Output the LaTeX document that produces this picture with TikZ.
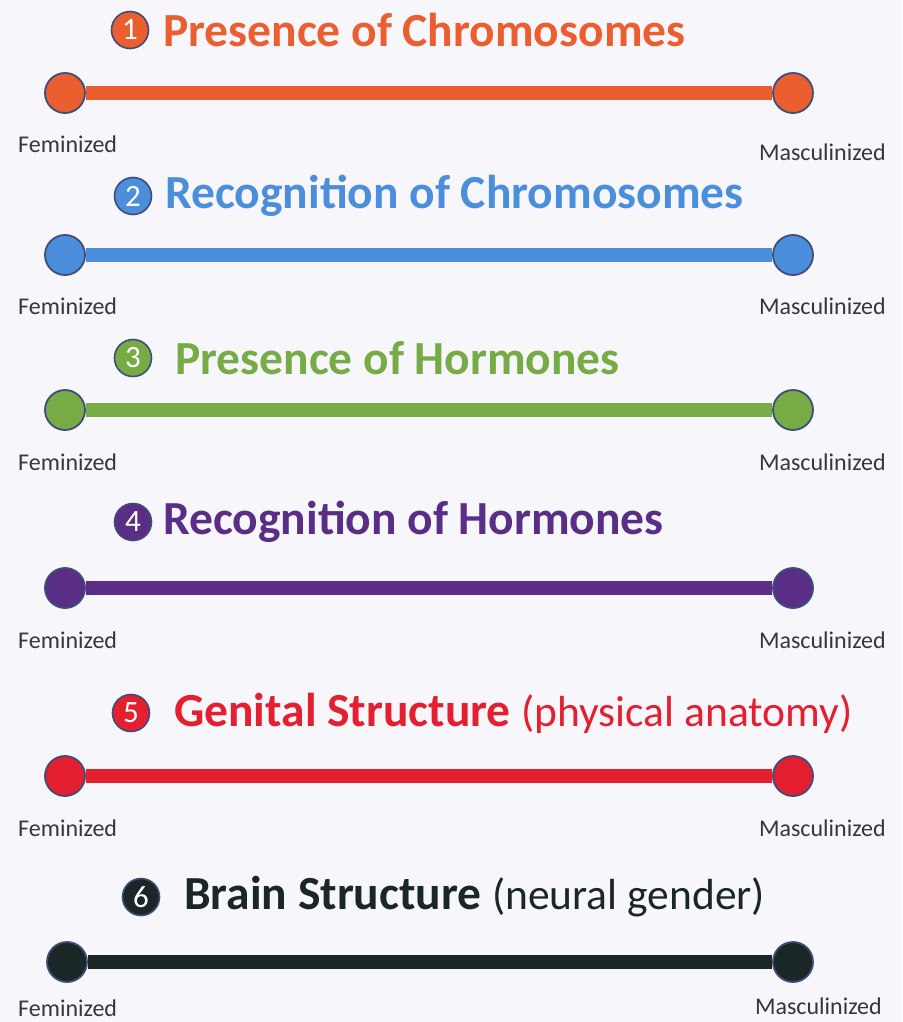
\documentclass[tikz,border=0pt]{standalone}
\usepackage{fontspec}
\setmainfont{Carlito}
\definecolor{bg}{HTML}{F7F6FB}
\definecolor{cA}{HTML}{EA5E30}
\definecolor{cB}{HTML}{4A8EDC}
\definecolor{cC}{HTML}{76AB45}
\definecolor{cD}{HTML}{5A2E86}
\definecolor{cE}{HTML}{E31F30}
\definecolor{cF}{HTML}{1B2727}
\definecolor{rim}{HTML}{3F4D78}
\definecolor{lbl}{HTML}{333838}
\tikzset{
  endpt/.style={circle, draw=rim, line width=1.8pt, minimum size=40pt, inner sep=0pt},
  numdot/.style={circle, draw=rim, line width=1.6pt, minimum size=37pt, inner sep=0pt, text=white, font=\fontsize{31}{31}\selectfont},
  title/.style={anchor=west, inner sep=0pt, font=\fontsize{47.5}{47.5}\selectfont\bfseries},
  sub/.style={},
  fem/.style={anchor=west, inner sep=0pt, text=lbl, font=\fontsize{24}{24}\selectfont},
  mas/.style={anchor=east, inner sep=0pt, text=lbl, font=\fontsize{24}{24}\selectfont},
  bar/.style={line width=14pt}
}
\newcommand{\subtxt}[1]{{\fontsize{43.5}{43.5}\selectfont\mdseries #1}}
\begin{document}
\begin{tikzpicture}[x=1pt,y=-1pt]
\fill[bg] (0,0) rectangle (902,1022);
\useasboundingbox (0,0) rectangle (902,1022);
% row 1
\node[numdot, fill=cA] (n1) at (130,30) {1};
\node[title, text=cA] (t1) at (163,30) {Presence of Chromosomes};
\node[endpt, fill=cA] (l1) at (65,93) {};
\node[endpt, fill=cA] (r1) at (793,93) {};
\draw[bar, cA] (l1.east) -- (r1.west);
\node[fem] (f1) at (18,144) {Feminized};
\node[mas] (m1) at (886,152) {Masculinized};
% row 2
\node[numdot, fill=cB] (n2) at (133,196) {2};
\node[title, text=cB] (t2) at (165,196) {Recognition of Chromosomes};
\node[endpt, fill=cB] (l2) at (65,255) {};
\node[endpt, fill=cB] (r2) at (793,255) {};
\draw[bar, cB] (l2.east) -- (r2.west);
\node[fem] (f2) at (18,306) {Feminized};
\node[mas] (m2) at (886,306) {Masculinized};
% row 3
\node[numdot, fill=cC] (n3) at (133,358) {3};
\node[title, text=cC] (t3) at (175,358) {Presence of Hormones};
\node[endpt, fill=cC] (l3) at (65,410) {};
\node[endpt, fill=cC] (r3) at (793,410) {};
\draw[bar, cC] (l3.east) -- (r3.west);
\node[fem] (f3) at (18,462) {Feminized};
\node[mas] (m3) at (886,462) {Masculinized};
% row 4
\node[numdot, fill=cD] (n4) at (133,522) {4};
\node[title, text=cD] (t4) at (163,522) {Recognition of Hormones};
\node[endpt, fill=cD] (l4) at (65,588) {};
\node[endpt, fill=cD] (r4) at (793,588) {};
\draw[bar, cD] (l4.east) -- (r4.west);
\node[fem] (f4) at (18,640) {Feminized};
\node[mas] (m4) at (886,640) {Masculinized};
% row 5
\node[numdot, fill=cE] (n5) at (131,713) {5};
\node[title, text=cE] (t5) at (174,713) {Genital Structure \subtxt{(physical anatomy)}};
\node[endpt, fill=cE] (l5) at (65,776) {};
\node[endpt, fill=cE] (r5) at (793,776) {};
\draw[bar, cE] (l5.east) -- (r5.west);
\node[fem] (f5) at (18,828) {Feminized};
\node[mas] (m5) at (886,828) {Masculinized};
% row 6
\node[numdot, fill=cF] (n6) at (141,897) {6};
\node[title, text=cF] (t6) at (184,897) {Brain Structure \subtxt{(neural gender)}};
\node[endpt, fill=cF] (l6) at (67,962) {};
\node[endpt, fill=cF] (r6) at (793,962) {};
\draw[bar, cF] (l6.east) -- (r6.west);
\node[fem] (f6) at (18,1008) {Feminized};
\node[mas] (m6) at (882,1006) {Masculinized};
\end{tikzpicture}
\end{document}
